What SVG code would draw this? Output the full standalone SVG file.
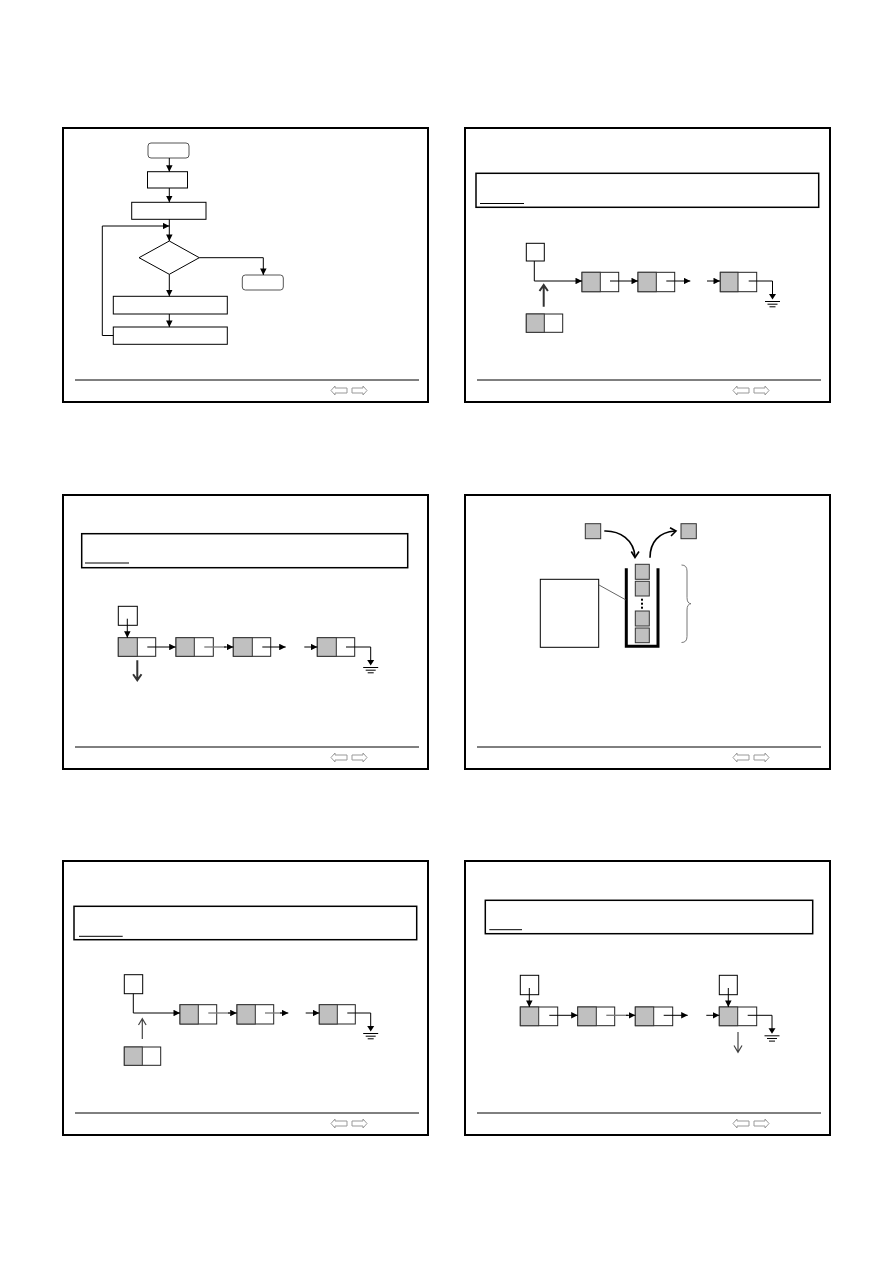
<svg xmlns="http://www.w3.org/2000/svg" xmlns:xlink="http://www.w3.org/1999/xlink" width="893" height="1263" viewBox="0 0 893 1263">
<style>
.frame{fill:none;stroke:#000;stroke-width:2}
.foot{stroke:#000;stroke-width:1}
.nav{fill:#fff;stroke:#999;stroke-width:1}
.box{fill:#fff;stroke:#000;stroke-width:1}
.rbox{fill:#fff;stroke:#555;stroke-width:1}
.tbox{fill:#fff;stroke:#000;stroke-width:1.5}
.cell{fill:#fff;stroke:#222;stroke-width:1}
.data{fill:#c0c0c0;stroke:#333;stroke-width:1}
.ln{fill:none;stroke:#000;stroke-width:1}
.gl{fill:none;stroke:#777;stroke-width:1.3}
.big{fill:none;stroke:#333;stroke-width:2}
.thin{fill:none;stroke:#444;stroke-width:1.2}
.curve{fill:none;stroke:#000;stroke-width:1.6}
.cup{fill:none;stroke:#000;stroke-width:3}
.brace{fill:none;stroke:#777;stroke-width:1}
</style>
<defs>
<marker id="ah" viewBox="0 0 10 10" refX="10" refY="5" markerWidth="7" markerHeight="6.5" markerUnits="userSpaceOnUse" orient="auto"><path d="M0,0 L10,5 L0,10 z" fill="#000"/></marker>
<symbol id="slide" overflow="visible">
<rect class="frame" x="0" y="0" width="365" height="274"/>
<line class="foot" x1="12" y1="252" x2="356" y2="252"/>
<polygon class="nav" points="268,262.5 272,258 272,260 284,260 284,265 272,265 272,267"/>
<polygon class="nav" points="289,260 300,260 300,258 304,262.5 300,267 300,265 289,265"/>
</symbol>
<g id="gnd">
<line class="ln" x1="0" y1="0" x2="0" y2="14"/>
<polygon points="-3.5,13 3.5,13 0,18.5" fill="#000"/>
<line class="ln" x1="-7.5" y1="20.5" x2="7.5" y2="20.5"/>
<line class="ln" x1="-5" y1="23.2" x2="5" y2="23.2"/>
<line class="ln" x1="-3" y1="25.8" x2="3" y2="25.8"/>
</g>
</defs>

<g id="frames">
<use xlink:href="#slide" x="63" y="128"/>
<use xlink:href="#slide" x="465" y="128"/>
<use xlink:href="#slide" x="63" y="495"/>
<use xlink:href="#slide" x="465" y="495"/>
<use xlink:href="#slide" x="63" y="861"/>
<use xlink:href="#slide" x="465" y="861"/>
</g>

<!-- Slide 1: flowchart -->
<g id="s1-start"><rect class="rbox" x="148" y="143" width="41" height="15" rx="3"/></g>
<g id="s1-init"><rect class="box" x="147.5" y="171.7" width="40" height="16.3"/></g>
<g id="s1-set"><rect class="box" x="131.7" y="202.3" width="74.3" height="17"/></g>
<g id="s1-cond"><polygon class="box" points="169.3,241 199.3,257.7 169.3,274.3 139,257.7"/></g>
<g id="s1-end"><rect class="rbox" x="242.3" y="275" width="41" height="15" rx="3"/></g>
<g id="s1-body"><rect class="box" x="113.3" y="296.3" width="114" height="17.7"/></g>
<g id="s1-step"><rect class="box" x="113.3" y="327" width="114" height="17.3"/></g>

<!-- Slide 2 -->
<g id="s2-text"><rect class="tbox" x="476" y="173.3" width="342.7" height="34"/><line class="ln" x1="480" y1="203.5" x2="524" y2="203.5"/></g>
<g id="s2-head"><rect class="box" x="526.3" y="243.3" width="18" height="17.7"/></g>
<g id="s2-n1"><rect class="cell" x="582" y="272.3" width="36.7" height="19.4"/><rect class="data" x="582" y="272.3" width="18.3" height="19.4"/></g>
<g id="s2-n2"><rect class="cell" x="638" y="272.3" width="36.7" height="19.4"/><rect class="data" x="638" y="272.3" width="18.3" height="19.4"/></g>
<g id="s2-n3"><rect class="cell" x="720.3" y="272.3" width="36.4" height="19.4"/><rect class="data" x="720.3" y="272.3" width="17.7" height="19.4"/></g>
<g id="s2-new"><rect class="cell" x="526.3" y="314" width="36.4" height="18.3"/><rect class="data" x="526.3" y="314" width="18" height="18.3"/></g>

<!-- Slide 3 -->
<g id="s3-text"><rect class="tbox" x="81.7" y="533.7" width="326" height="34"/><line class="ln" x1="85" y1="563" x2="129" y2="563"/></g>
<g id="s3-head"><rect class="box" x="118.3" y="606.3" width="19" height="19"/></g>
<g id="s3-n1"><rect class="cell" x="118.3" y="637.7" width="37.4" height="18.6"/><rect class="data" x="118.3" y="637.7" width="19" height="18.6"/></g>
<g id="s3-n2"><rect class="cell" x="176" y="637.7" width="37.3" height="18.6"/><rect class="data" x="176" y="637.7" width="18.3" height="18.6"/></g>
<g id="s3-n3"><rect class="cell" x="233.3" y="637.7" width="37.4" height="18.6"/><rect class="data" x="233.3" y="637.7" width="19" height="18.6"/></g>
<g id="s3-n4"><rect class="cell" x="317.3" y="637.7" width="37.4" height="18.6"/><rect class="data" x="317.3" y="637.7" width="19" height="18.6"/></g>

<!-- Slide 4: stack -->
<g id="s4-in"><rect class="data" x="585.3" y="523.7" width="15.4" height="15"/></g>
<g id="s4-out"><rect class="data" x="681" y="523.7" width="15.3" height="15"/></g>
<g id="s4-stack">
<rect class="data" x="635.3" y="564.3" width="14" height="15"/>
<rect class="data" x="635.3" y="581.3" width="14" height="14.7"/>
<rect x="641" y="598.7" width="2" height="2" fill="#000"/>
<rect x="641" y="602.7" width="2" height="2" fill="#000"/>
<rect x="641" y="606.7" width="2" height="2" fill="#000"/>
<rect class="data" x="635.3" y="611" width="14" height="15"/>
<rect class="data" x="635.3" y="628" width="14" height="14.7"/>
<path class="cup" d="M626.3,568.3 V646.3 H658 V568.3"/>
</g>
<g id="s4-note"><rect class="box" x="540.3" y="579.3" width="58.4" height="68"/></g>
<g id="s4-brace"><path class="brace" d="M681.5,565 Q687,565 687,571 V597.5 Q687,603.5 691,603.7 Q687,604 687,610 V636.5 Q687,642.5 681.5,642.5"/></g>

<!-- Slide 5 -->
<g id="s5-text"><rect class="tbox" x="74" y="906.3" width="342.7" height="33.4"/><line class="ln" x1="79" y1="936.3" x2="122.7" y2="936.3"/></g>
<g id="s5-head"><rect class="box" x="124.3" y="974.7" width="18.4" height="19"/></g>
<g id="s5-n1"><rect class="cell" x="180" y="1004.7" width="36.7" height="19.3"/><rect class="data" x="180" y="1004.7" width="18.3" height="19.3"/></g>
<g id="s5-n2"><rect class="cell" x="237" y="1004.7" width="36.7" height="19.3"/><rect class="data" x="237" y="1004.7" width="18.3" height="19.3"/></g>
<g id="s5-n3"><rect class="cell" x="319.3" y="1004.7" width="36" height="19.3"/><rect class="data" x="319.3" y="1004.7" width="18" height="19.3"/></g>
<g id="s5-new"><rect class="cell" x="124.3" y="1047" width="36.4" height="18.3"/><rect class="data" x="124.3" y="1047" width="18" height="18.3"/></g>

<!-- Slide 6 -->
<g id="s6-text"><rect class="tbox" x="485.3" y="900.3" width="327.4" height="33.4"/><line class="ln" x1="489.3" y1="929.7" x2="522" y2="929.7"/></g>
<g id="s6-head"><rect class="box" x="520.3" y="975.3" width="18.4" height="19.4"/></g>
<g id="s6-rear"><rect class="box" x="719.3" y="975.3" width="18" height="19.4"/></g>
<g id="s6-n1"><rect class="cell" x="520.3" y="1007" width="37.4" height="18.7"/><rect class="data" x="520.3" y="1007" width="18.4" height="18.7"/></g>
<g id="s6-n2"><rect class="cell" x="577.7" y="1007" width="37" height="18.7"/><rect class="data" x="577.7" y="1007" width="18.6" height="18.7"/></g>
<g id="s6-n3"><rect class="cell" x="635.3" y="1007" width="37.4" height="18.7"/><rect class="data" x="635.3" y="1007" width="18.4" height="18.7"/></g>
<g id="s6-n4"><rect class="cell" x="719.3" y="1007" width="37.4" height="18.7"/><rect class="data" x="719.3" y="1007" width="18.4" height="18.7"/></g>

<g id="connectors">
<!-- slide 1 -->
<line class="ln" x1="169.3" y1="158" x2="169.3" y2="171.7" marker-end="url(#ah)"/>
<line class="ln" x1="169.3" y1="188" x2="169.3" y2="202.3" marker-end="url(#ah)"/>
<line class="ln" x1="169.3" y1="219.3" x2="169.3" y2="241" marker-end="url(#ah)"/>
<polyline class="ln" points="113.3,335.5 102.3,335.5 102.3,226 169.3,226" marker-end="url(#ah)"/>
<polyline class="ln" points="199.3,257.7 263.3,257.7 263.3,275" marker-end="url(#ah)"/>
<line class="ln" x1="169.3" y1="274.3" x2="169.3" y2="296.3" marker-end="url(#ah)"/>
<line class="ln" x1="169.3" y1="314" x2="169.3" y2="327" marker-end="url(#ah)"/>
<!-- slide 2 -->
<polyline class="ln" points="534.3,261 534.3,281 582,281" marker-end="url(#ah)"/>
<line class="ln" x1="610" y1="281" x2="638" y2="281" marker-end="url(#ah)"/>
<line class="ln" x1="666.3" y1="281" x2="690.3" y2="281" marker-end="url(#ah)"/>
<line class="ln" x1="707" y1="281" x2="720" y2="281" marker-end="url(#ah)"/>
<polyline class="ln" points="748.7,281 772.5,281"/>
<use xlink:href="#gnd" x="772.5" y="281"/>
<path class="big" d="M543.7,306.7 V285.5 M539.5,291 L543.7,285 L547.9,291"/>
<!-- slide 3 -->
<line class="ln" x1="127.3" y1="618.7" x2="127.3" y2="637.7" marker-end="url(#ah)"/>
<line class="ln" x1="147.3" y1="647" x2="175.7" y2="647" marker-end="url(#ah)"/>
<line class="gl" x1="204.3" y1="647" x2="226" y2="647"/>
<line class="ln" x1="224" y1="647" x2="233.3" y2="647" marker-end="url(#ah)"/>
<line class="ln" x1="262.3" y1="647" x2="285.7" y2="647" marker-end="url(#ah)"/>
<line class="ln" x1="304.3" y1="647" x2="317.3" y2="647" marker-end="url(#ah)"/>
<polyline class="ln" points="346,647 370.7,647"/>
<use xlink:href="#gnd" x="370.7" y="647"/>
<path class="big" d="M137.3,660.3 V680 M133.1,674.3 L137.3,680.3 L141.5,674.3"/>
<!-- slide 4 -->
<path class="curve" d="M604.3,531 C620,530.5 634,540 635,557"/>
<polyline class="curve" points="631.3,551.5 635,557.5 639,551.5"/>
<path class="curve" d="M650,557.7 C650,542 659,532 675,531"/>
<polyline class="curve" points="670,527.7 676,531 671,536"/>
<line x1="599" y1="585" x2="625.5" y2="599.7" stroke="#666" stroke-width="1"/>
<!-- slide 5 -->
<polyline class="ln" points="133.3,993.7 133.3,1013 180,1013" marker-end="url(#ah)"/>
<line class="gl" x1="208.3" y1="1013" x2="230" y2="1013"/>
<line class="ln" x1="228" y1="1013" x2="236.7" y2="1013" marker-end="url(#ah)"/>
<line class="gl" x1="265" y1="1013" x2="282" y2="1013"/>
<line class="ln" x1="280" y1="1013" x2="288.3" y2="1013" marker-end="url(#ah)"/>
<line class="ln" x1="305.7" y1="1013" x2="319.3" y2="1013" marker-end="url(#ah)"/>
<polyline class="ln" points="347.3,1013 370.7,1013"/>
<use xlink:href="#gnd" x="370.7" y="1013"/>
<path class="thin" d="M142.3,1039 V1019 M138.5,1025 L142.3,1018.7 L146.1,1025"/>
<!-- slide 6 -->
<line class="ln" x1="529.3" y1="988" x2="529.3" y2="1007" marker-end="url(#ah)"/>
<line class="ln" x1="728.3" y1="988" x2="728.3" y2="1007" marker-end="url(#ah)"/>
<line class="ln" x1="549.3" y1="1015.3" x2="577.7" y2="1015.3" marker-end="url(#ah)"/>
<line class="gl" x1="606.3" y1="1015.3" x2="628" y2="1015.3"/>
<line class="ln" x1="626" y1="1015.3" x2="635.3" y2="1015.3" marker-end="url(#ah)"/>
<line class="ln" x1="663.7" y1="1015.3" x2="687.7" y2="1015.3" marker-end="url(#ah)"/>
<line class="ln" x1="706.3" y1="1015.3" x2="719.3" y2="1015.3" marker-end="url(#ah)"/>
<polyline class="ln" points="747.7,1015.3 772,1015.3"/>
<use xlink:href="#gnd" x="772" y="1015.3"/>
<path class="thin" d="M738,1032 V1052 M734,1045.5 L738,1052.3 L742,1045.5"/>
</g>
</svg>
